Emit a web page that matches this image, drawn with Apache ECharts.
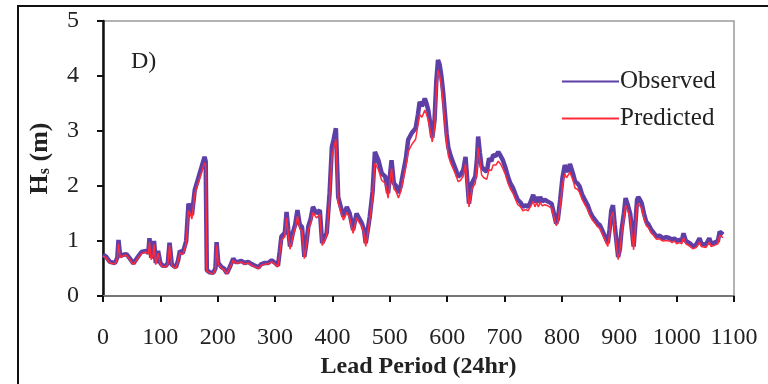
<!DOCTYPE html>
<html>
<head>
<meta charset="utf-8">
<script src="https://cdn.jsdelivr.net/npm/echarts@6/dist/echarts.min.js"></script>
<style>
  html, body { margin: 0; padding: 0; background: #fff; }
  #main { width: 768px; height: 384px; }
</style>
</head>
<body>
<div id="main"></div>
<script>
  // lead period (24hr steps)
  var leadTime = [
    0, 5, 12, 21, 25, 27, 30, 35, 41, 47,
    53, 60, 67, 75, 79, 81, 84, 87, 89, 92,
    96, 100, 104, 110, 113, 116, 120, 127, 131, 134,
    139, 145, 149, 152, 155, 160, 166, 172, 177, 179,
    181, 186, 192, 196, 198, 201, 207, 211, 216, 222,
    227, 231, 236, 241, 247, 253, 259, 265, 271, 276,
    282, 288, 294, 300, 305, 308, 311, 317, 320, 323,
    326, 331, 335, 339, 343, 347, 351, 355, 358, 362,
    366, 372, 378, 382, 386, 390, 395, 399, 402, 406,
    410, 415, 419, 425, 430, 436, 442, 447, 451, 455,
    458, 465, 470, 474, 480, 486, 492, 497, 503, 507,
    511, 515, 519, 523, 528, 532, 538, 545, 549, 552,
    556, 561, 564, 567, 571, 574, 578, 581, 584, 587,
    590, 593, 596, 599, 602, 606, 611, 615, 619, 623,
    628, 632, 635, 638, 643, 649, 652, 654, 657, 660,
    664, 669, 673, 677, 680, 685, 689, 693, 697, 701,
    706, 710, 715, 719, 723, 728, 732, 737, 741, 745,
    750, 753, 756, 759, 762, 766, 770, 775, 782, 786,
    790, 793, 797, 801, 805, 808, 811, 814, 817, 820,
    823, 827, 831, 835, 840, 845, 849, 853, 858, 862,
    866, 870, 875, 880, 883, 886, 889, 892, 895, 898,
    901, 904, 908, 911, 915, 919, 922, 925, 928, 931,
    933, 936, 939, 943, 947, 951, 956, 960, 965, 970,
    976, 982, 988, 992, 996, 1000, 1005, 1009, 1012, 1016,
    1019, 1024, 1028, 1031, 1034, 1037, 1040, 1043, 1046, 1051,
    1054, 1057, 1060, 1063, 1066, 1069, 1072, 1075, 1078, 1081
  ];

  var observed = [
    0.75, 0.72, 0.62, 0.6, 0.7, 1.02, 0.72, 0.75, 0.76, 0.68,
    0.59, 0.7, 0.8, 0.82, 0.78, 1.05, 0.7, 0.75, 1.0, 0.6,
    0.82, 0.6, 0.55, 0.55, 0.6, 0.97, 0.57, 0.52, 0.65, 0.82,
    0.78, 1.0, 1.68, 1.6, 1.47, 1.93, 2.14, 2.35, 2.53, 2.45,
    0.47, 0.43, 0.42, 0.5, 0.98, 0.6, 0.52, 0.5, 0.41, 0.55,
    0.68, 0.62, 0.62, 0.64, 0.6, 0.62, 0.58, 0.55, 0.52, 0.58,
    0.6, 0.6, 0.65, 0.6, 0.55, 0.8, 1.08, 1.15, 1.53, 1.2,
    0.9, 1.15, 1.3, 1.56, 1.3, 1.25, 0.71, 1.0, 1.27, 1.4,
    1.62, 1.5, 1.56, 0.96, 1.05, 1.15, 1.87, 2.71, 2.84, 3.05,
    1.8, 1.6, 1.44, 1.62, 1.5, 1.2, 1.5, 1.4, 1.33, 1.2,
    0.96, 1.44, 1.9, 2.62, 2.47, 2.23, 2.17, 1.87, 2.47, 2.05,
    2.0, 1.87, 2.0, 2.23, 2.5, 2.84, 2.96, 3.05, 3.3, 3.53,
    3.45, 3.59, 3.5, 3.38, 3.1, 2.88, 3.2, 3.9, 4.29, 4.2,
    3.99, 3.7, 3.33, 2.95, 2.7, 2.55, 2.41, 2.3, 2.17, 2.2,
    2.29, 2.53, 2.1, 1.68, 2.05, 2.17, 2.5, 2.9, 2.6, 2.35,
    2.3, 2.26, 2.5, 2.45, 2.56, 2.55, 2.62, 2.55, 2.47, 2.35,
    2.17, 2.05, 1.96, 1.85, 1.75, 1.7, 1.62, 1.65, 1.62, 1.7,
    1.84, 1.7, 1.8, 1.7, 1.8, 1.72, 1.75, 1.72, 1.68, 1.5,
    1.32, 1.4, 1.75, 2.15, 2.38, 2.3, 2.26, 2.4, 2.38, 2.2,
    2.08, 2.05, 1.99, 1.85, 1.75, 1.65, 1.53, 1.45, 1.38, 1.32,
    1.29, 1.2, 1.08, 0.96, 1.2, 1.55, 1.65, 1.3, 1.0, 0.71,
    0.85, 1.2, 1.5, 1.78, 1.65, 1.5, 1.2, 0.9, 1.3, 1.75,
    1.8, 1.75, 1.69, 1.5, 1.35, 1.3, 1.2, 1.15, 1.08, 1.1,
    1.05, 1.07, 1.05, 1.02, 1.05, 1.0, 1.02, 1.0, 1.14, 1.0,
    1.0, 0.95, 0.9, 0.88, 0.93, 0.9, 1.05, 0.95, 0.93, 0.93,
    0.95, 1.05, 0.95, 0.93, 0.97, 1.0, 1.0, 1.17, 1.15, 1.12
  ];

  var predicted = [
    0.72, 0.7, 0.6, 0.58, 0.68, 0.95, 0.7, 0.73, 0.74, 0.66,
    0.57, 0.68, 0.77, 0.8, 0.76, 0.98, 0.66, 0.73, 0.94, 0.57,
    0.78, 0.58, 0.53, 0.53, 0.58, 0.92, 0.55, 0.5, 0.63, 0.79,
    0.75, 0.95, 1.55, 1.5, 1.4, 1.85, 2.05, 2.25, 2.42, 2.38,
    0.45, 0.42, 0.4, 0.48, 0.92, 0.58, 0.5, 0.48, 0.4, 0.53,
    0.65, 0.6, 0.6, 0.62, 0.58, 0.6, 0.56, 0.53, 0.5, 0.56,
    0.58, 0.58, 0.62, 0.58, 0.53, 0.75, 1.02, 1.08, 1.42, 1.12,
    0.85, 1.08, 1.22, 1.45, 1.22, 1.18, 0.68, 0.95, 1.2, 1.32,
    1.52, 1.42, 1.48, 0.92, 1.0, 1.1, 1.75, 2.55, 2.68, 2.85,
    1.7, 1.52, 1.38, 1.52, 1.42, 1.14, 1.42, 1.33, 1.27, 1.14,
    0.9, 1.38, 1.8, 2.42, 2.3, 2.1, 2.05, 1.78, 2.32, 1.95,
    1.9, 1.78, 1.9, 2.1, 2.35, 2.62, 2.75, 2.85, 3.1, 3.3,
    3.25, 3.38, 3.3, 3.2, 2.98, 2.8, 3.05, 3.7, 4.1, 4.0,
    3.8, 3.5, 3.15, 2.8, 2.55, 2.42, 2.3, 2.2, 2.08, 2.1,
    2.18, 2.4, 2.0, 1.62, 1.95, 2.05, 2.35, 2.7, 2.45, 2.2,
    2.15, 2.12, 2.3, 2.28, 2.38, 2.38, 2.45, 2.4, 2.32, 2.22,
    2.05, 1.95, 1.86, 1.76, 1.66, 1.62, 1.55, 1.57, 1.55, 1.62,
    1.72, 1.62, 1.7, 1.62, 1.7, 1.64, 1.66, 1.64, 1.6, 1.44,
    1.28, 1.34, 1.65, 2.02, 2.22, 2.15, 2.12, 2.25, 2.22, 2.08,
    1.96, 1.94, 1.88, 1.76, 1.66, 1.57, 1.46, 1.38, 1.32, 1.26,
    1.23, 1.14, 1.02, 0.9, 1.12, 1.45, 1.52, 1.2, 0.92, 0.66,
    0.8, 1.12, 1.4, 1.65, 1.55, 1.42, 1.12, 0.84, 1.22, 1.64,
    1.68, 1.65, 1.6, 1.42, 1.28, 1.24, 1.14, 1.1, 1.03, 1.04,
    1.0, 1.01, 1.0, 0.97, 1.0, 0.95, 0.97, 0.95, 1.06, 0.95,
    0.95, 0.9, 0.86, 0.84, 0.88, 0.86, 0.98, 0.9, 0.88, 0.88,
    0.9, 0.98, 0.9, 0.88, 0.92, 0.95, 0.95, 1.1, 1.08, 1.06
  ];

  var seriesNames = ['Observed', 'Predicted'];
  var panelLabel = 'D)';

  function pairs(xs, ys) {
    var out = [];
    for (var i = 0; i < xs.length; i++) out.push([xs[i], ys[i]]);
    return out;
  }

  var serif = '"Liberation Serif", "DejaVu Serif", serif';
  var chart = echarts.init(document.getElementById('main'), null, { renderer: 'canvas' });

  chart.setOption({
    animation: false,
    backgroundColor: '#fff',
    textStyle: { fontFamily: serif },
    title: {
      text: panelLabel,
      left: 126, top: 45,
      textStyle: { fontFamily: serif, fontSize: 24, fontWeight: 'normal', color: '#222' }
    },
    legend: {
      orient: 'vertical',
      left: 556, top: 64,
      itemWidth: 57, itemHeight: 14, itemGap: 12,
      data: seriesNames,
      itemStyle: { color: 'rgba(0,0,0,0)', borderColor: 'rgba(0,0,0,0)', borderWidth: 0 },
      textStyle: { fontFamily: serif, fontSize: 25, color: '#222', padding: [0, 0, 0, -4] }
    },
    graphic: [{
      type: 'rect',
      shape: { x: 18, y: 6, width: 800, height: 420 },
      style: { fill: 'none', stroke: '#111', lineWidth: 2 },
      silent: true
    }],
    grid: {
      left: 103, right: 34, top: 21, bottom: 88,
      show: true, borderColor: '#9a9a9a', borderWidth: 1.5
    },
    xAxis: {
      type: 'value',
      min: 0, max: 1100, interval: 100,
      name: 'Lead Period (24hr)',
      nameLocation: 'middle', nameGap: 52,
      nameTextStyle: { fontFamily: serif, fontSize: 24, fontWeight: 'bold', color: '#222' },
      axisLine: { onZero: false, lineStyle: { color: '#777', width: 2 } },
      axisTick: { show: true, inside: false, length: 6, lineStyle: { color: '#111', width: 2 } },
      axisLabel: {
        fontFamily: serif, fontSize: 24, color: '#222', margin: 30,
        formatter: function (v) { return String(v); }
      },
      splitLine: { show: false }
    },
    yAxis: {
      type: 'value',
      min: 0, max: 5, interval: 1,
      name: '{b|H}{s|s}{b| (m)}',
      nameLocation: 'middle', nameGap: 50,
      nameRotate: 90,
      nameTextStyle: {
        rich: {
          b: { fontFamily: serif, fontSize: 26, fontWeight: 'bold', color: '#222' },
          s: { fontFamily: serif, fontSize: 16, fontWeight: 'bold', color: '#222', verticalAlign: 'bottom', padding: [10, 0, 0, 0] }
        }
      },
      axisLine: { lineStyle: { color: '#111', width: 2.5 } },
      axisTick: { show: true, inside: false, length: 6, lineStyle: { color: '#111', width: 2 } },
      axisLabel: { fontFamily: serif, fontSize: 24, color: '#222', margin: 24 },
      splitLine: { show: false }
    },
    series: [{
      name: seriesNames[0],
      type: 'line',
      data: pairs(leadTime, observed),
      symbol: 'none',
      z: 2,
      lineStyle: { color: '#5d3fa6', width: 4.5 },
      itemStyle: { color: '#5d3fa6' }
    }, {
      name: seriesNames[1],
      type: 'line',
      data: pairs(leadTime, predicted),
      symbol: 'none',
      z: 3,
      lineStyle: { color: '#ff2a3a', width: 1.5 },
      itemStyle: { color: '#ff2a3a' }
    }]
  });
</script>
</body>
</html>
